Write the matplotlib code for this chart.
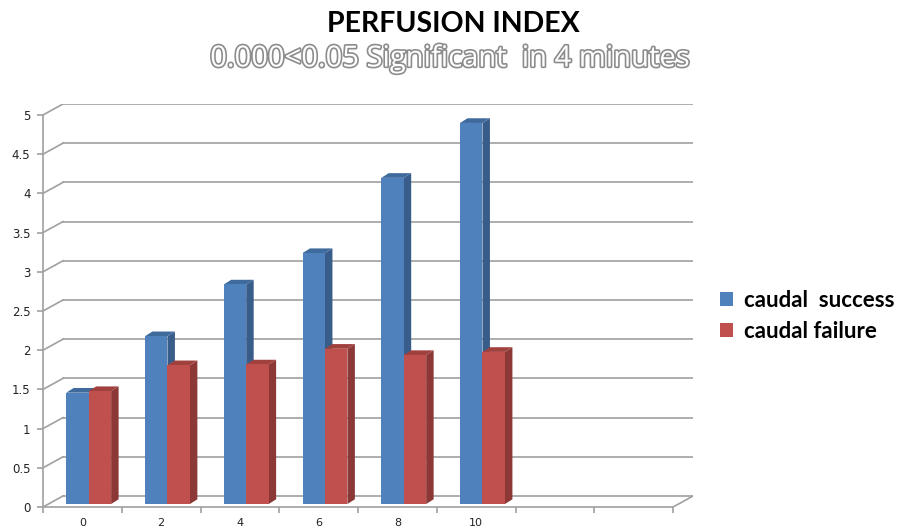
import matplotlib.pyplot as plt
import matplotlib.patheffects as pe
from matplotlib.patches import Polygon, Patch

categories = ["0", "2", "4", "6", "8", "10", "", ""]
success = [1.42, 2.14, 2.80, 3.20, 4.16, 4.86]
failure = [1.44, 1.77, 1.78, 1.98, 1.90, 1.94]
series_names = ["caudal  success", "caudal failure"]
y_ticks = [0, 0.5, 1, 1.5, 2, 2.5, 3, 3.5, 4, 4.5, 5]

# fake 3D look: back wall offset, bar offset and bar depth (data units)
WALL_DX, WALL_DY = 0.253, 0.14
BAR_SHIFT_X, BAR_SHIFT_Y = 0.08, 0.038
BAR_DX, BAR_DY = 0.095, 0.06
BAR_W = 0.285

front = ["#4F81BD", "#C0504D"]
side = ["#385D8A", "#8C3836"]
top = ["#3E6A9C", "#A1413E"]
GRID = "#a0a0a0"

n = len(categories)
ymax = y_ticks[-1]

fig = plt.figure(figsize=(9.06, 5.30), dpi=100)
ax = fig.add_axes([43 / 906, 23 / 530, 650 / 906, 403 / 530])
ax.set_xlim(0, n + WALL_DX)
ax.set_ylim(0, ymax + WALL_DY)

# back wall gridlines and left wall diagonals
for v in y_ticks:
    ax.plot([WALL_DX, n + WALL_DX], [v + WALL_DY, v + WALL_DY], color=GRID, lw=1.2, zorder=1)
    ax.plot([0, WALL_DX], [v, v + WALL_DY], color=GRID, lw=1.2, zorder=1)
# floor right edge
ax.plot([n, n + WALL_DX], [0, WALL_DY], color=GRID, lw=1.2, zorder=1)


def draw_bar(x0, h, k):
    b = BAR_SHIFT_Y
    x1 = x0 + BAR_W
    ax.add_patch(Polygon([(x1, b), (x1 + BAR_DX, b + BAR_DY), (x1 + BAR_DX, b + h + BAR_DY), (x1, b + h)],
                         closed=True, facecolor=side[k], edgecolor="none", zorder=3))
    ax.add_patch(Polygon([(x0, b + h), (x0 + BAR_DX, b + h + BAR_DY), (x1 + BAR_DX, b + h + BAR_DY), (x1, b + h)],
                         closed=True, facecolor=top[k], edgecolor="none", zorder=3))
    ax.bar(x0, h, width=BAR_W, bottom=b, align="edge", color=front[k], edgecolor="none", zorder=3)


for i in range(len(success)):
    c = i + 0.5 + BAR_SHIFT_X
    draw_bar(c - BAR_W, success[i], 0)
    draw_bar(c, failure[i], 1)

for s in ["top", "right"]:
    ax.spines[s].set_visible(False)
ax.spines["left"].set_bounds(0, ymax)
ax.spines["bottom"].set_bounds(0, n)
for s in ["left", "bottom"]:
    ax.spines[s].set_color(GRID)
    ax.spines[s].set_linewidth(1.2)

ax.set_yticks(y_ticks)
ax.set_yticklabels([f"{v:g}" for v in y_ticks])
ax.set_xticks(range(n + 1))
ax.set_xticklabels([])
ax.set_xticks([i + 0.5 for i in range(n)], minor=True)
ax.set_xticklabels(categories, minor=True)
ax.tick_params(axis="y", length=4, color=GRID, width=1.2, labelsize=8.5, pad=5, labelcolor="#222222")
ax.tick_params(axis="x", which="major", length=4, color=GRID, width=1.2)
ax.tick_params(axis="x", which="minor", length=0, labelsize=8, pad=8, labelcolor="#222222")

fig.text(0.5, 1 - 24 / 530, "PERFUSION INDEX", ha="center", va="center",
         fontsize=20.5, fontweight="bold", family="Lato")
fig.text(0.497, 1 - 59 / 530, "0.000<0.05 Significant  in 4 minutes", ha="center", va="center",
         fontsize=21, family="Open Sans", color="white",
         path_effects=[pe.withStroke(linewidth=2.4, foreground="#8c8c8c")])

handles = [Patch(facecolor=front[0]), Patch(facecolor=front[1])]
fig.legend(handles, series_names, loc="center left", bbox_to_anchor=(700 / 906, 1 - 316 / 530),
           frameon=False, prop={"family": "Lato", "weight": "bold", "size": 16},
           handlelength=0.6, handleheight=0.6, handletextpad=0.5, labelspacing=0.45)

fig.savefig("out.png", dpi=100)
